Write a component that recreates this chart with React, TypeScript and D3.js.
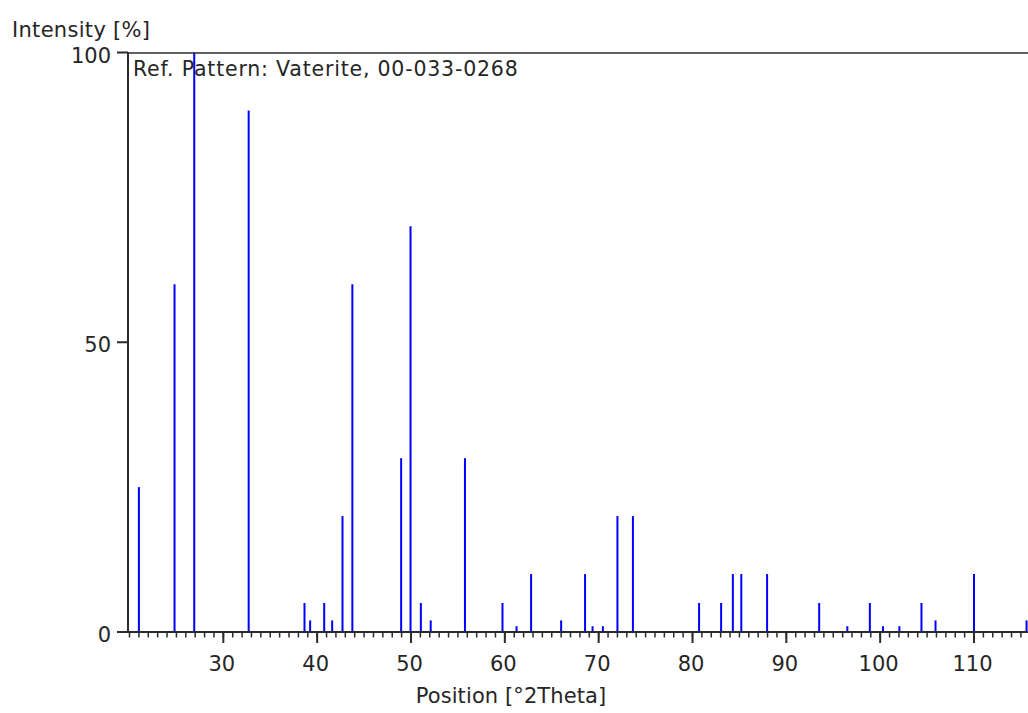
import React from "react";
import * as d3 from "d3";

const positions = [21.0, 24.8, 26.9, 32.7, 38.65, 39.25, 40.75, 41.6, 42.7, 43.75, 48.95, 49.95, 51.05, 52.1, 55.75, 59.75, 61.25, 62.8, 66.0, 68.55, 69.35, 70.45, 72.0, 73.65, 80.7, 83.05, 84.3, 85.2, 87.95, 93.5, 96.5, 98.9, 100.3, 102.05, 104.4, 105.9, 110.0, 115.6];
const intensities = [25, 60, 100, 90, 5, 2, 5, 2, 20, 60, 30, 70, 5, 2, 30, 5, 1, 10, 2, 10, 1, 1, 20, 20, 5, 5, 10, 10, 10, 5, 1, 5, 1, 1, 5, 2, 10, 2];
const xMajorTicks = [30, 40, 50, 60, 70, 80, 90, 100, 110];
const xMinorTicks = d3.range(20, 117, 1);
const yTicks = [0, 50, 100];
const yLabel = "Intensity [%]";
const xLabel = "Position [°2Theta]";
const refLabel = "Ref. Pattern: Vaterite, 00-033-0268";

const W = 1028;
const H = 713;
const plotLeft = 128;
const plotRight = 1028;
const font = "'DejaVu Sans', sans-serif";
const axisColor = "#2b2b2b";
const textColor = "#262626";

export default function App() {
  const x = d3.scaleLinear().domain([20, 110]).range([129.5, 974]);
  const y = d3.scaleLinear().domain([0, 100]).range([632, 52.5]);
  const y0 = y(0);

  return (
    <svg
      width={W}
      height={H}
      style={{ position: "absolute", left: 0, top: 0, background: "#fff" }}
      fontFamily={font}
    >
      <rect x={0} y={0} width={W} height={H} fill="#fff" />
      {positions.map((p, i) => (
        <line
          key={i}
          x1={x(p)}
          x2={x(p)}
          y1={y0}
          y2={y(intensities[i])}
          stroke="#0000ff"
          strokeWidth={2}
        />
      ))}
      <line x1={plotLeft} x2={plotRight} y1={y(100) + 0.5} y2={y(100) + 0.5} stroke={axisColor} strokeWidth={1.5} />
      <line x1={plotLeft} x2={plotLeft} y1={y(100)} y2={y0 + 1} stroke={axisColor} strokeWidth={2} />
      {yTicks.map((t) => (
        <g key={t}>
          <line x1={117} x2={plotLeft} y1={y(t)} y2={y(t)} stroke={axisColor} strokeWidth={2} />
          <text
            x={111}
            y={y(t) + 3}
            textAnchor="end"
            dominantBaseline="central"
            fontSize={21}
            fill={textColor}
          >
            {t}
          </text>
        </g>
      ))}
      <line x1={117} x2={plotRight} y1={y0} y2={y0} stroke={axisColor} strokeWidth={2} />
      {xMinorTicks.map((t) => (
        <line key={"m" + t} x1={x(t)} x2={x(t)} y1={y0} y2={y0 + 5.5} stroke={axisColor} strokeWidth={1.5} />
      ))}
      {xMajorTicks.map((t) => (
        <g key={"M" + t}>
          <line x1={x(t)} x2={x(t)} y1={y0} y2={y0 + 11} stroke={axisColor} strokeWidth={2} />
          <text x={x(t) - 1.5} y={671} textAnchor="middle" fontSize={21} fill={textColor}>
            {t}
          </text>
        </g>
      ))}
      <text x={12} y={37} fontSize={21} letterSpacing={0.3} fill={textColor}>
        {yLabel}
      </text>
      <text x={511} y={703} textAnchor="middle" fontSize={21} letterSpacing={0.1} fill={textColor}>
        {xLabel}
      </text>
      <text x={133} y={76} fontSize={20.5} letterSpacing={0.8} fill={textColor}>
        {refLabel}
      </text>
    </svg>
  );
}
